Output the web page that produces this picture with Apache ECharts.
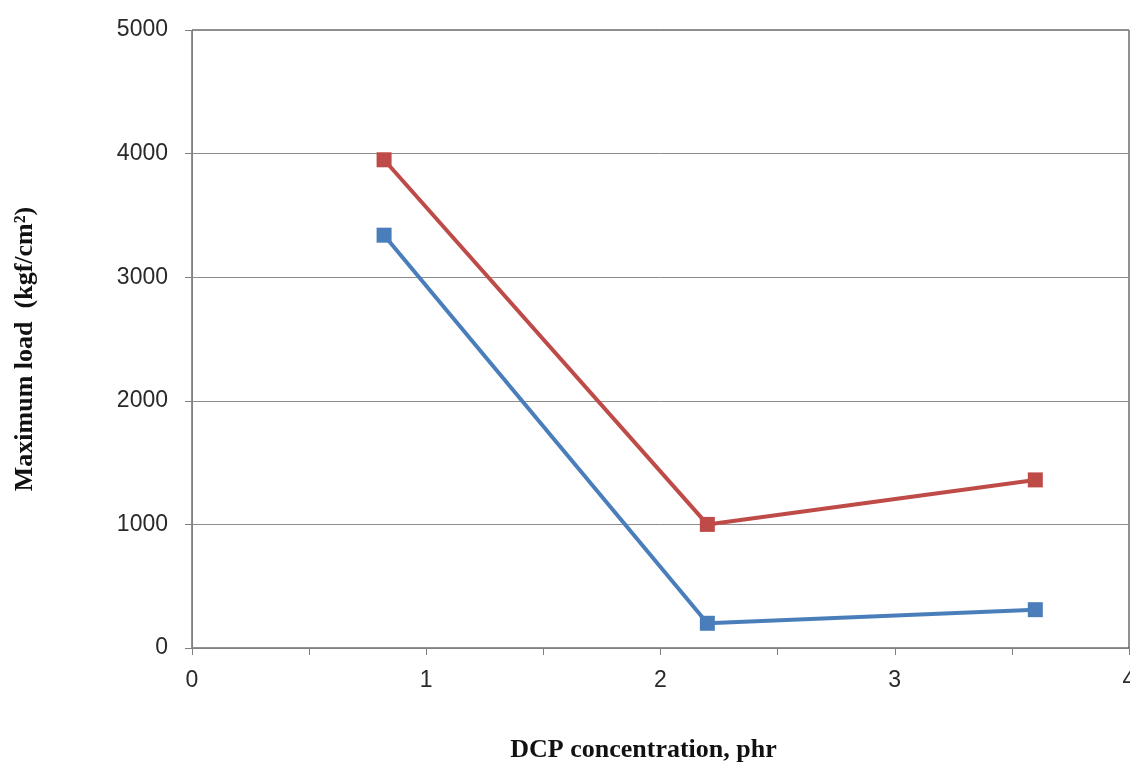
<!DOCTYPE html>
<html>
<head>
<meta charset="utf-8">
<script src="https://cdn.jsdelivr.net/npm/echarts@6/dist/echarts.min.js"></script>
<style>
    html, body { margin: 0; padding: 0; background: #fff; }
    #container { width: 1130px; height: 767px; }
</style>
</head>
<body>
<div id="container"></div>
<script>
    // DCP concentration (phr) for each point
    let dcpValues = [0.82, 2.2, 3.6];
    // red line (upper)
    let upperLoad = [3950, 1000, 1360];
    // blue line (lower)
    let lowerLoad = [3340, 200, 310];
    let yTicks = [0, 1000, 2000, 3000, 4000, 5000];
    let xTicks = [0, 1, 2, 3, 4];

    function toPairs(xs, ys) {
        return xs.map(function (x, i) { return [x, ys[i]]; });
    }

    let myChart = echarts.init(document.getElementById("container"));
    let tickFont = { fontFamily: 'Liberation Sans', fontSize: 23, color: '#2a2a2a' };
    let titleFont = { fontFamily: 'Liberation Serif', fontWeight: 'bold', fontSize: 26, color: '#111' };

    let option = {
        animation: false,
        grid: {
            left: 192,
            top: 30,
            right: 1,
            bottom: 119,
            outerBoundsMode: 'none',
            containLabel: false,
            show: true,
            borderColor: '#222',
            borderWidth: 1,
            backgroundColor: '#fff'
        },
        xAxis: {
            type: 'value',
            min: xTicks[0],
            max: xTicks[xTicks.length - 1],
            interval: 1,
            name: 'DCP concentration, phr',
            nameLocation: 'middle',
            nameGap: 89,
            nameTextStyle: Object.assign({ padding: [0, 34, 0, 0] }, titleFont),
            axisLine: { lineStyle: { color: '#808080', width: 1 } },
            axisTick: { show: true, length: 7, lineStyle: { color: '#808080' } },
            minorTick: { show: true, splitNumber: 2, length: 7, lineStyle: { color: '#808080' } },
            splitLine: { show: false },
            axisLabel: Object.assign({
                margin: 21,
                formatter: function (v) { return String(v); }
            }, tickFont)
        },
        yAxis: {
            type: 'value',
            min: yTicks[0],
            max: yTicks[yTicks.length - 1],
            interval: 1000,
            name: 'Maximum load  (kgf/cm²)',
            nameLocation: 'middle',
            nameGap: 154,
            nameRotate: 90,
            nameTextStyle: Object.assign({ padding: [0, 20, 0, 0] }, titleFont),
            axisLine: { show: true, lineStyle: { color: '#808080', width: 1 } },
            axisTick: { show: true, length: 7, lineStyle: { color: '#808080' } },
            splitLine: { show: true, lineStyle: { color: '#8c8c8c', width: 1 } },
            axisLabel: Object.assign({
                margin: 24,
                formatter: function (v) { return String(v); }
            }, tickFont)
        },
        series: [{
            name: 'upper',
            type: 'line',
            data: toPairs(dcpValues, upperLoad),
            symbol: 'rect',
            symbolSize: 15,
            lineStyle: { color: '#BE4B48', width: 4 },
            itemStyle: { color: '#BE4B48' }
        }, {
            name: 'lower',
            type: 'line',
            data: toPairs(dcpValues, lowerLoad),
            symbol: 'rect',
            symbolSize: 15,
            lineStyle: { color: '#4A7EBB', width: 4 },
            itemStyle: { color: '#4A7EBB' }
        }]
    };
    myChart.setOption(option);
</script>
</body>
</html>
